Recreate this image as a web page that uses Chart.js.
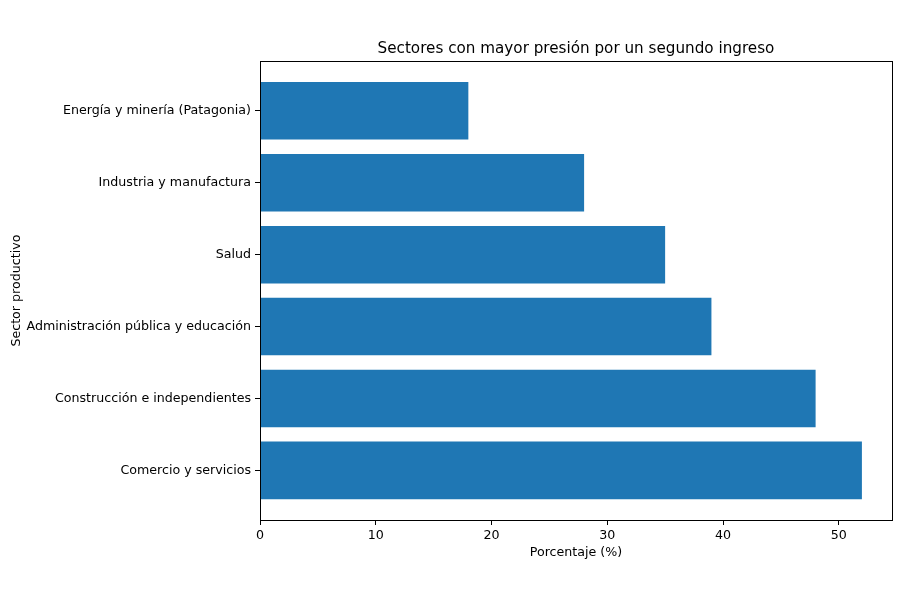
<!DOCTYPE html>
<html>
<head>
<meta charset="utf-8">
<script src="https://cdn.jsdelivr.net/npm/chart.js@4/dist/chart.umd.min.js"></script>
<style>
  html, body { margin: 0; padding: 0; background: #fff; }
  #wrap { width: 900px; height: 600px; }
</style>
</head>
<body>
<div id="wrap"><canvas id="c" width="900" height="600"></canvas></div>
<script>
const categories = [
  "Energía y minería (Patagonia)",
  "Industria y manufactura",
  "Salud",
  "Administración pública y educación",
  "Construcción e independientes",
  "Comercio y servicios"
];
const values = [18, 28, 35, 39, 48, 52];
const xTicks = [0, 10, 20, 30, 40, 50];
const chartTitle = "Sectores con mayor presión por un segundo ingreso";
const xTitle = "Porcentaje (%)";
const yTitle = "Sector productivo";

const FONT = "'DejaVu Sans', sans-serif";
const TICK_SIZE = 12.65;
const TITLE_SIZE = 15.2;
const points = categories.map((c, i) => ({ x: values[i], y: i }));

const framePlugin = {
  id: 'frame',
  afterDatasetsDraw(chart) {
    const { ctx, chartArea: a } = chart;
    ctx.save();
    ctx.strokeStyle = '#000';
    ctx.lineWidth = 1;
    ctx.strokeRect(Math.round(a.left) + 0.5, Math.round(a.top) + 0.5,
                   Math.round(a.right - a.left), Math.round(a.bottom - a.top));
    ctx.restore();
  }
};

new Chart(document.getElementById('c'), {
  type: 'bar',
  data: {
    datasets: [{
      data: points,
      backgroundColor: '#1f77b4',
      borderWidth: 0,
      categoryPercentage: 1.0,
      barPercentage: 0.8
    }]
  },
  options: {
    indexAxis: 'y',
    responsive: false,
    animation: false,
    layout: { padding: { left: 0, right: 8, top: 40, bottom: 0 } },
    plugins: {
      legend: { display: false },
      tooltip: { enabled: false },
      title: {
        display: true,
        fullSize: false,
        text: chartTitle,
        color: '#000',
        font: { family: FONT, size: TITLE_SIZE, weight: 'normal' },
        padding: { top: 0, bottom: 3 }
      }
    },
    scales: {
      x: {
        type: 'linear',
        position: 'bottom',
        min: 0,
        max: 54.6,
        afterFit(scale) { scale.height = 80; },
        afterBuildTicks(scale) { scale.ticks = xTicks.map(v => ({ value: v })); },
        ticks: {
          color: '#000',
          font: { family: FONT, size: TICK_SIZE },
          padding: 3,
          maxRotation: 0,
          autoSkip: false,
          includeBounds: false
        },
        grid: { display: true, drawOnChartArea: false, drawTicks: true, tickLength: 5, color: '#000' },
        border: { display: true, color: '#000' },
        title: {
          display: true,
          text: xTitle,
          color: '#000',
          font: { family: FONT, size: TICK_SIZE },
          padding: { top: 0, bottom: 40 }
        }
      },
      y: {
        type: 'linear',
        position: 'left',
        reverse: true,
        offset: false,
        min: -0.69,
        max: 5.69,
        afterFit(scale) { scale.width = 260; },
        afterBuildTicks(scale) { scale.ticks = categories.map((c, i) => ({ value: i })); },
        ticks: {
          color: '#000',
          font: { family: FONT, size: TICK_SIZE },
          padding: 4,
          autoSkip: false,
          callback: (v) => categories[v]
        },
        grid: { display: true, offset: false, drawOnChartArea: false, drawTicks: true, tickLength: 5, color: '#000' },
        border: { display: true, color: '#000' },
        title: {
          display: true,
          text: yTitle,
          color: '#000',
          font: { family: FONT, size: TICK_SIZE },
          padding: { top: 9, bottom: 0 }
        }
      }
    }
  },
  plugins: [framePlugin]
});
</script>
</body>
</html>
